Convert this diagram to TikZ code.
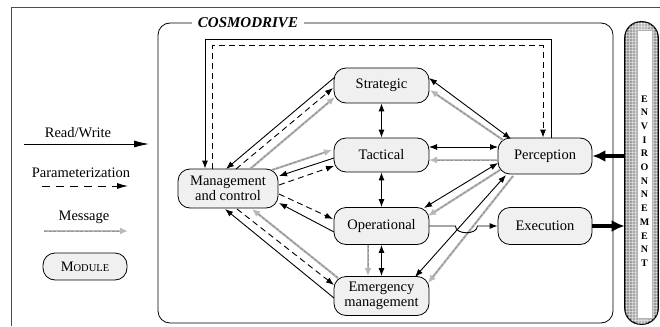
\documentclass[tikz,border=0pt]{standalone}
\usepackage{fontspec}
\setmainfont{Liberation Serif}
\usetikzlibrary{arrows.meta}

\tikzset{
  module/.style={draw, line width=0.8pt, fill=gray!12, rounded corners=12pt,
    minimum width=95pt, minimum height=36pt, inner sep=2pt, align=center,
    font=\fontsize{14.5}{15.5}\selectfont},
  rw/.style={line width=0.9pt, -{Latex[length=8pt,width=6pt]}},
  rwb/.style={line width=0.9pt, {Latex[length=8pt,width=6pt]}-{Latex[length=8pt,width=6pt]}},
  par/.style={line width=0.9pt, dash pattern=on 6pt off 4pt, -{Latex[length=8pt,width=6pt]}},
  msg/.style={draw=gray!55, line width=2.2pt, -{Latex[length=8pt,width=7pt,fill=gray!60]},
    postaction={draw=gray!85, line width=1pt, dash pattern=on 3pt off 1.5pt, shorten >=8pt, -}},
  envarrow/.style={line width=3.5pt, -{Latex[length=13pt,width=12pt]}},
  legendtext/.style={font=\fontsize{14.5}{15.5}\selectfont},
}

\begin{document}
\begin{tikzpicture}[x=1pt,y=-1pt]
\useasboundingbox (0,0) rectangle (660,326);

% outer frame
\draw[line width=0.9pt, gray!60!black] (11,326) -- (11,7) -- (660,7);

% COSMODRIVE container
\draw[line width=0.8pt, rounded corners=12pt] (158,23) rectangle (613,323);
\node[fill=white, inner sep=6pt, font=\fontsize{15}{16}\selectfont\bfseries\itshape] (title) at (248,23) {COSMODRIVE};

% modules
\node[module, minimum width=100pt, minimum height=39pt] (mc) at (228,188.5) {Management\\and control};
\node[module, minimum height=35pt] (st) at (381.5,85.5) {Strategic};
\node[module, minimum height=34pt] (ta) at (381.5,155) {Tactical};
\node[module, minimum height=37pt] (op) at (381.5,226) {Operational};
\node[module, minimum height=39pt] (em) at (381.5,296) {Emergency\\management};
\node[module, minimum width=94pt] (pe) at (545,156) {Perception};
\node[module, minimum width=94pt, minimum height=37pt] (ex) at (545,226) {Execution};

% environment bar
\node[draw, line width=0.8pt, rounded corners=16pt, minimum width=33pt, minimum height=302pt,
  inner sep=0pt, left color=gray!85, right color=gray!85, middle color=gray!50] (envbar) at (641.5,173) {};
\begin{scope}
  \clip[rounded corners=16pt] (envbar.south west) rectangle (envbar.north east);
  \foreach \gx in {626,629,...,658} \draw[white, opacity=0.4, line width=0.8pt] (\gx,20) -- (\gx,326);
  \foreach \gy in {23,26,...,326} \draw[white, opacity=0.4, line width=0.8pt] (624,\gy) -- (660,\gy);
\end{scope}
\draw[line width=0.8pt, rounded corners=16pt] (envbar.south west) rectangle (envbar.north east);
\draw[gray!60, fill=white] (637,30) rectangle (652,318);
\node[font=\bfseries\fontsize{10}{13.7}\selectfont, align=center, inner sep=0pt] (env) at (644.5,181)
  {E\\N\\V\\I\\R\\O\\N\\N\\E\\M\\E\\N\\T};

% environment links
\draw[envarrow] (envbar.west |- pe.east) -- (pe.east);
\draw[envarrow] (ex.east) -- (envbar.west |- ex.east);

% feedback loop over the top
\draw[rw] ([xshift=6pt]pe.north) -- ++(0,-98) -| ([xshift=-23pt]mc.north);
\draw[par] ([xshift=-16pt]mc.north) -- ++(0,-123) -| ([xshift=-2pt]pe.north);

% management and control <-> levels
\draw[rw]  ([shift={(-46.5,-8.5)}]st.center) -- ([shift={(-2,-19.5)}]mc.center);
\draw[par] ([shift={(8,-19.5)}]mc.center) -- ([shift={(-48.5,2.5)}]st.center);
\draw[msg] ([shift={(22,-19.5)}]mc.center) -- ([shift={(-46.5,11.5)}]st.center);

\draw[msg] ([shift={(44,-18.5)}]mc.center) -- ([shift={(-49.5,-5)}]ta.center);
\draw[rw]  ([shift={(-47.5,3)}]ta.center) -- ([shift={(51,-12.5)}]mc.center);
\draw[par] ([shift={(51,-3.5)}]mc.center) -- ([shift={(-47.5,11)}]ta.center);

\draw[par] ([shift={(51,5.5)}]mc.center) -- ([shift={(-48.5,-7)}]op.center);
\draw[rw]  ([shift={(-47.5,6)}]op.center) -- ([shift={(51,14.5)}]mc.center);

\draw[rw]  ([shift={(-47.5,2)}]em.center) -- ([shift={(-3,20.5)}]mc.center);
\draw[par] ([shift={(9,20.5)}]mc.center) -- ([shift={(-47.5,-11)}]em.center);
\draw[msg] ([shift={(-43.5,-18)}]em.center) -- ([shift={(24,20.5)}]mc.center);

% between levels
\draw[rwb] (st.south) -- (ta.north);
\draw[rwb] (ta.south) -- (op.north);
\draw[rwb] (op.south) -- (em.north);
\draw[msg] ([xshift=-13.5pt]op.south) -- ([xshift=-13.5pt]em.north);

% perception <-> levels
\draw[rwb] ([shift={(47.5,-7.5)}]st.center) -- ([shift={(-34,-17)}]pe.center);
\draw[msg] ([shift={(-42,-16)}]pe.center) -- ([shift={(48.5,4.5)}]st.center);

\draw[rwb] ([shift={(47.5,-8)}]ta.center) -- ([shift={(-47,-9)}]pe.center);
\draw[msg] ([shift={(-47,4)}]pe.center) -- ([shift={(47.5,5)}]ta.center);

\draw[rwb] ([shift={(42.5,-18)}]op.center) -- ([shift={(-47,7)}]pe.center);
\draw[msg] ([shift={(-45,14)}]pe.center) -- ([shift={(46.5,-10)}]op.center);

\draw[rwb] ([shift={(33.5,-19)}]em.center) -- ([shift={(-39,19)}]pe.center);
\draw[msg] ([shift={(-32,20)}]pe.center) -- ([shift={(46.5,-13)}]em.center);

% operational -> execution, hopping over the crossing lines
\draw[rw] (op.east) -- ([xshift=26pt]op.east)
  .. controls ([shift={(26,9)}]op.east) and ([shift={(48,9)}]op.east) .. ([xshift=48pt]op.east)
  -- (ex.west);

% legend
\node[legendtext] (lrw) at (78,133) {Read/Write};
\coordinate (lrw1) at (24,144);
\coordinate (lrw2) at (149,144);
\draw[line width=0.9pt, -{Latex[length=15pt,width=7pt]}] (lrw1) -- (lrw2);

\node[legendtext] (lpar) at (81,173) {Parameterization};
\coordinate (lpar1) at (42,186);
\coordinate (lpar2) at (128,186);
\draw[line width=0.9pt, dash pattern=on 8pt off 6pt, -{Latex[length=11pt,width=6pt]}] (lpar1) -- (lpar2);

\node[legendtext] (lmsg) at (84,217) {Message};
\coordinate (lmsg1) at (44,231);
\coordinate (lmsg2) at (128,231);
\draw[msg] (lmsg1) -- (lmsg2);

\node[module, minimum width=84pt, minimum height=27pt] (lmod) at (85,266.5)
  {M{\fontsize{10.5}{12}\selectfont ODULE}};
\end{tikzpicture}
\end{document}
